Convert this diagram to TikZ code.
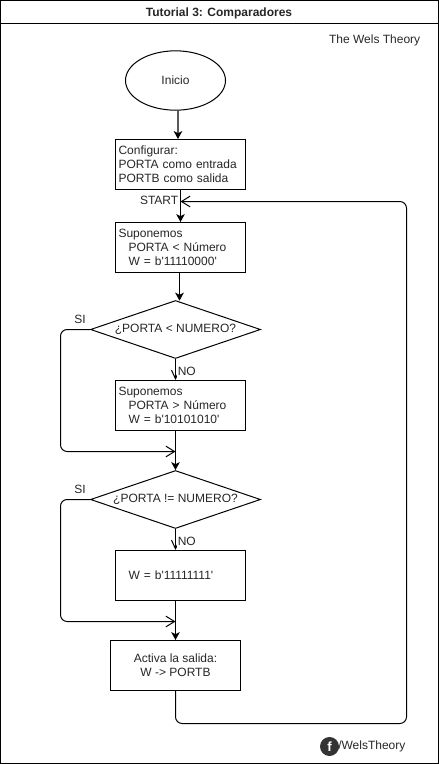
\documentclass[tikz,border=0pt]{standalone}
\usepackage{fontspec}
\setmainfont{Liberation Sans}[Ligatures=TeXOff]
\usetikzlibrary{arrows.meta,shapes.geometric,calc}
\tikzset{
  x=0.75pt,y=-0.75pt,
  every node/.style={font=\fontsize{9pt}{10.5pt}\selectfont,text=black!85},
  plainline/.style={draw=black,line width=0.75pt},
  pbox/.style={plainline,rectangle,minimum width=97.5pt,minimum height=37.5pt,inner sep=0pt},
  leftbox/.style={pbox,align=left,text width=93pt},
  cond/.style={plainline,diamond,aspect=2.93,minimum width=127.5pt,minimum height=43.5pt,inner sep=0pt},
  term/.style={plainline,ellipse,minimum width=75pt,minimum height=44.5pt,inner sep=0pt},
  lbl/.style={inner sep=0pt},
  nolbl/.style={fill=white,inner xsep=0.75pt,inner ysep=1.5pt,anchor=west},
  flow/.style={draw=black,line width=0.85pt,-{Stealth[length=6pt,width=6.5pt,inset=1.6pt]}},
  back/.style={draw=black,line width=0.75pt,rounded corners=5pt,-{Straight Barb[length=6.5pt,width=8pt]}},
  noarrow/.style={draw=black,line width=0.75pt,-{Straight Barb[length=6.5pt,width=6pt]}}
}
\newcommand{\ind}{\hspace*{7.5pt}}
\begin{document}
\begin{tikzpicture}
\path[use as bounding box] (0,0) rectangle (439,764);
\coordinate (fa) at (0.5,0.5);
\coordinate (fb2) at (438,763);
\draw[plainline] (fa) rectangle (fb2);
\coordinate (tl) at (0.5,23.5);
\coordinate (tr) at (438,23.5);
\draw[plainline] (tl) -- (tr);
\node[lbl,font=\fontsize{9pt}{10.5pt}\selectfont\bfseries] (title) at (219,13.5) {Tutorial 3: Comparadores};
\node[lbl,anchor=east] (brand) at (420.5,40.5) {The Wels Theory};

\node[term] (inicio) at (175.5,80.5) {\raisebox{-0.6pt}{Inicio}};
\node[leftbox] (conf) at (180.5,164.5) {Configurar:\\PORTA como entrada\\PORTB como salida};
\node[leftbox] (sup1) at (180.5,247.5) {Suponemos\\\ind PORTA < Número\\\ind W = b'11110000'};
\node[cond] (d1) at (175.5,329.5) {¿PORTA < NUMERO?};
\node[leftbox] (sup2) at (180.5,405.5) {Suponemos\\\ind PORTA > Número\\\ind W = b'10101010'};
\node[cond] (d2) at (175.5,499.5) {¿PORTA != NUMERO?};
\node[leftbox] (sup3) at (180.5,575.5) {\ind W = b'11111111'};
\node[pbox,align=center] (act) at (175.5,665.5) {Activa la salida:\\W -> PORTB};

\node[lbl,anchor=east] (start) at (178.5,200) {START};
\node[lbl] (si1) at (80,319.5) {SI};
\node[lbl] (si2) at (80,489.5) {SI};

\draw[flow] ([xshift=1.9pt]inicio.south) -- ([xshift=-1.9pt]conf.north);
\draw[flow] (conf.south) -- (sup1.north);
\draw[flow] ([xshift=-0.75pt]sup1.south) -- ([xshift=3pt,yshift=-0.5pt]d1.north);
\draw[noarrow] (d1.south) -- (d1.south |- sup2.north);
\draw[flow] (d1.south |- sup2.south) -- (d2.north);
\draw[noarrow] (d2.south) -- (d2.south |- sup3.north);
\draw[flow] (d2.south |- sup3.south) -- (act.north);

\node[lbl,nolbl] (no1) at (176.5,371) {NO};
\node[lbl,nolbl] (no2) at (176.5,541) {NO};

\coordinate (m1) at (175.5,451.5);
\coordinate (m2) at (175.5,621.5);
\coordinate (l1) at (60.5,400);
\coordinate (l2) at (60.5,570);
\draw[back] (d1.west) -| (l1) |- (m1);
\draw[back] (d2.west) -| (l2) |- (m2);

\coordinate (loopb) at (406.5,723.5);
\coordinate (loopt) at (406.5,201.5);
\coordinate (m0) at (180.5,201.5);
\draw[back] (act.south) |- (loopb) -- (loopt) -- (m0);

\node[circle,fill=black!80,minimum size=14.25pt,inner sep=0pt,text=white,font=\fontsize{10pt}{10pt}\selectfont\bfseries] (fb) at (329.5,746.5) {f};
\node[lbl,anchor=west] (fbt) at (338,746.5) {/WelsTheory};
\end{tikzpicture}
\end{document}
